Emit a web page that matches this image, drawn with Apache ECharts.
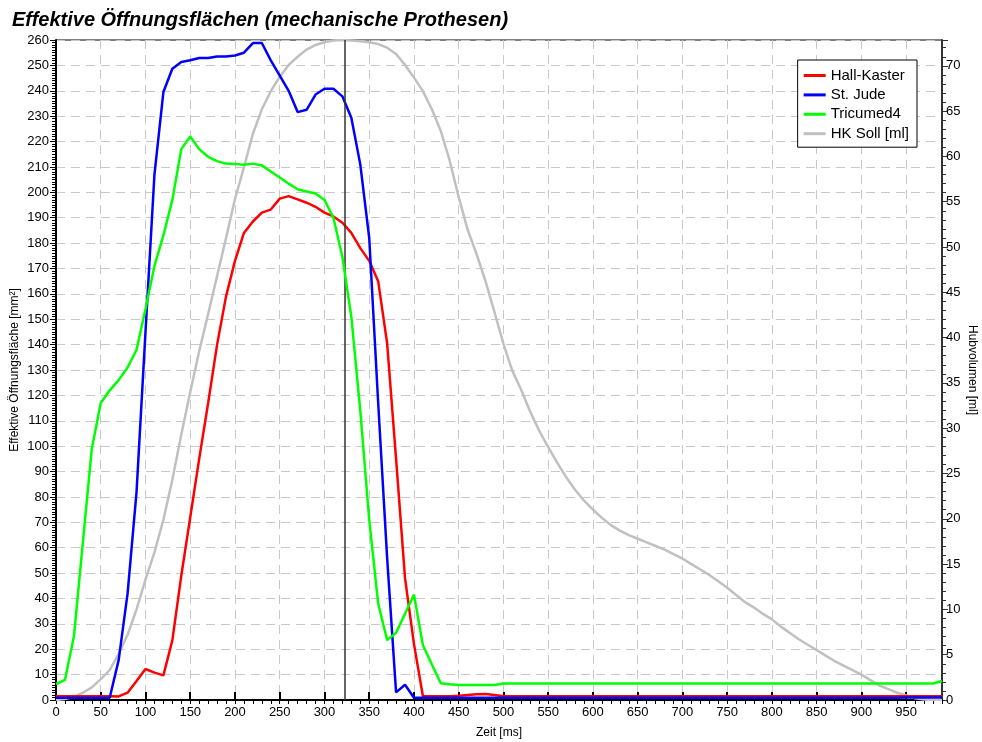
<!DOCTYPE html>
<html>
<head>
<meta charset="utf-8">
<script src="https://cdn.jsdelivr.net/npm/echarts@6/dist/echarts.min.js"></script>
<style>
html,body{margin:0;padding:0;background:#fff;}
#chart{width:982px;height:742px;}
</style>
</head>
<body>
<div id="chart"></div>
<script>
const titleText = 'Effektive Öffnungsflächen (mechanische Prothesen)';
const seriesNames = ['Hall-Kaster', 'St. Jude', 'Tricumed4', 'HK Soll [ml]'];

const timeMs = [0,10,20,30,40,50,60,70,80,90,100,110,120,130,140,150,160,170,180,190,
200,210,220,230,240,250,260,270,280,290,300,310,320,330,340,350,360,370,380,390,
400,410,420,430,440,450,460,470,480,490,500,510,520,530,540,550,560,570,580,590,
600,610,620,630,640,650,660,670,680,690,700,710,720,730,740,750,760,770,780,790,
800,810,820,830,840,850,860,870,880,890,900,910,920,930,940,950,960,970,980,990];

const hallKaster = [1.5,1.5,1.5,1.5,1.5,1.5,1.5,1.4,2.9,7.5,12.2,10.8,9.7,23.5,49,72,95,117,140,159,
173,184,188.5,192,193.2,197.5,198.5,197.2,195.9,194.3,192,190.5,188,184,178,173,165,140.5,95,48,
22,1.5,1.5,1.5,1.5,1.7,2.0,2.3,2.4,2.0,1.5,1.5,1.5,1.5,1.5,1.5,1.5,1.5,1.5,1.5,
1.5,1.5,1.5,1.5,1.5,1.5,1.5,1.5,1.5,1.5,1.5,1.5,1.5,1.5,1.5,1.5,1.5,1.5,1.5,1.5,
1.5,1.5,1.5,1.5,1.5,1.5,1.5,1.5,1.5,1.5,1.5,1.5,1.5,1.5,1.5,1.5,1.5,1.5,1.5,1.5];

const stJude = [0.9,0.9,0.9,0.9,0.9,0.9,0.9,15.7,42,82,145,207,239.5,248.7,251.3,252,252.9,252.9,253.5,253.5,
253.9,255,258.8,258.8,252,246,240,231.6,232.5,238.5,240.8,240.8,237.8,229.4,211,182,117,56,3,6,
0.9,0.9,0.9,0.9,0.9,0.9,0.9,0.9,0.9,0.9,0.9,0.9,0.9,0.9,0.9,0.9,0.9,0.9,0.9,0.9,
0.9,0.9,0.9,0.9,0.9,0.9,0.9,0.9,0.9,0.9,0.9,0.9,0.9,0.9,0.9,0.9,0.9,0.9,0.9,0.9,
0.9,0.9,0.9,0.9,0.9,0.9,0.9,0.9,0.9,0.9,0.9,0.9,0.9,0.9,0.9,1.0,1.0,1.0,1.0,1.0];

const tricumed4 = [6.3,7.9,25,62,99,117,122,126,131,138,154,171,183,197,217,222,217,214,212.3,211.3,
211.2,210.9,211.3,210.6,208.2,205.8,203.4,201.2,200.3,199.5,197,190,174.5,151,114,71,38,23.6,26.5,34,
41.5,21.6,14,6.6,6.2,5.9,5.9,5.9,5.9,5.9,6.5,6.5,6.5,6.5,6.5,6.5,6.5,6.5,6.5,6.5,
6.5,6.5,6.5,6.5,6.5,6.5,6.5,6.5,6.5,6.5,6.5,6.5,6.5,6.5,6.5,6.5,6.5,6.5,6.5,6.5,
6.5,6.5,6.5,6.5,6.5,6.5,6.5,6.5,6.5,6.5,6.5,6.5,6.5,6.5,6.5,6.5,6.5,6.5,6.5,7.5];

const hkSollMl = [0,0.1,0.35,0.8,1.4,2.3,3.3,5.1,7.2,10,13.3,16.3,19.9,24.3,29.3,34,38.5,42.6,46.8,51,
55.3,58.8,62.5,65.2,67.2,68.8,70.1,71,71.8,72.3,72.6,72.8,72.85,72.8,72.7,72.6,72.4,72,71.3,70.1,
68.7,67.2,65.2,62.8,59.5,55.5,51.9,49.2,46.2,42.8,39.3,36.3,34.2,31.8,29.7,27.9,26.2,24.6,23.2,22,
21,20.1,19.3,18.7,18.2,17.8,17.4,17,16.6,16.1,15.6,15,14.4,13.8,13.1,12.4,11.6,10.8,10.2,9.5,
8.9,8.1,7.4,6.7,6.1,5.5,4.9,4.3,3.8,3.3,2.8,2.2,1.6,1.2,0.8,0.5,0.2,0.05,0,0];

const markerTimeMs = 323;
const xTicks = {min: 0, max: 990, step: 50, minorStep: 10};
const leftTicks = {min: 0, max: 260, step: 10};
const rightTicks = {min: 0, max: 72.85, step: 5};

function pairs(vals) { return timeMs.map((t, i) => [t, vals[i]]); }

const FONT = '"Liberation Sans", Arial, sans-serif';
const gridRect = {left: 56, right: 40, top: 40, bottom: 42, containLabel: false, outerBoundsMode: 'none'};

const chart = echarts.init(document.getElementById('chart'), null, {renderer: 'canvas'});
chart.setOption({
  animation: false,
  backgroundColor: '#fff',
  textStyle: {fontFamily: FONT},
  title: {
    text: titleText, left: 12, top: 10, padding: 0,
    textStyle: {fontFamily: FONT, fontSize: 20, fontWeight: 'bold', fontStyle: 'italic', color: '#000'}
  },
  legend: {
    data: seriesNames, orient: 'vertical', right: 65, top: 60,
    icon: 'rect',
    backgroundColor: '#fff', borderColor: '#000', borderWidth: 1, borderRadius: 0,
    padding: [7, 8, 5, 6], itemGap: 2.4, itemWidth: 22, itemHeight: 3,
    textStyle: {fontFamily: FONT, fontSize: 15, color: '#000', lineHeight: 17}
  },
  grid: [
    Object.assign({show: true, borderColor: '#000', borderWidth: 1, backgroundColor: 'transparent'}, gridRect),
    Object.assign({show: false}, gridRect)
  ],
  xAxis: [{
    type: 'value', gridIndex: 0, min: xTicks.min, max: xTicks.max, interval: xTicks.step,
    name: 'Zeit [ms]', nameLocation: 'middle', nameGap: 27, nameMoveOverlap: false,
    nameTextStyle: {fontFamily: FONT, fontSize: 12, color: '#000'},
    axisLine: {show: true, lineStyle: {color: '#000', width: 2}},
    axisTick: {show: true, inside: true, length: 8, lineStyle: {color: '#000', width: 2}},
    axisLabel: {fontFamily: FONT, fontSize: 13, color: '#000', margin: 6, showMaxLabel: false,
      formatter: v => (v % 50 === 0 ? String(v) : '')},
    splitLine: {show: true, lineStyle: {color: '#c8c8c8', type: [9, 6], width: 1}}
  }, {
    type: 'value', gridIndex: 1, min: xTicks.min, max: xTicks.max, interval: xTicks.minorStep,
    axisLine: {show: false},
    axisTick: {show: true, inside: false, length: 4, lineStyle: {color: '#000', width: 1}},
    axisLabel: {show: false}, splitLine: {show: false}
  }],
  yAxis: [{
    type: 'value', gridIndex: 0, position: 'left', min: leftTicks.min, max: leftTicks.max, interval: leftTicks.step,
    name: 'Effektive Öffnungsfläche [mm²]', nameLocation: 'middle', nameGap: 41, nameRotate: 90, nameMoveOverlap: false,
    nameTextStyle: {fontFamily: FONT, fontSize: 12, color: '#000', verticalAlign: 'middle'},
    axisLine: {show: true, lineStyle: {color: '#000', width: 2}},
    axisTick: {show: true, inside: false, length: 6, lineStyle: {color: '#000', width: 1}},
    minorTick: {show: true, splitNumber: 10, length: 4, lineStyle: {color: '#000', width: 1}},
    axisLabel: {fontFamily: FONT, fontSize: 13, color: '#000', margin: 7},
    splitLine: {show: true, lineStyle: {color: '#c8c8c8', type: [9, 6], width: 1}}
  }, {
    type: 'value', gridIndex: 0, position: 'right', min: rightTicks.min, max: rightTicks.max, interval: rightTicks.step,
    name: 'Hubvolumen [ml]', nameLocation: 'middle', nameGap: 30, nameRotate: -90, nameMoveOverlap: false,
    nameTextStyle: {fontFamily: FONT, fontSize: 12, color: '#000', verticalAlign: 'middle'},
    axisLine: {show: true, lineStyle: {color: '#333', width: 2}},
    axisTick: {show: true, inside: false, length: 6, lineStyle: {color: '#333', width: 1}},
    minorTick: {show: true, splitNumber: 5, length: 4, lineStyle: {color: '#333', width: 1}},
    axisLabel: {fontFamily: FONT, fontSize: 13, color: '#000', margin: 4, showMaxLabel: false,
      formatter: v => (Math.abs(v % 5) < 1e-6 ? String(v) : '')},
    splitLine: {show: false}
  }, {
    type: 'value', gridIndex: 1, show: false, min: 0, max: 1
  }],
  series: [{
    name: seriesNames[3], type: 'line', xAxisIndex: 0, yAxisIndex: 1, data: pairs(hkSollMl),
    symbol: 'none', smooth: false, color: '#c0c0c0', lineStyle: {color: '#c0c0c0', width: 2.5}, z: 2,
    markLine: {
      silent: true, symbol: ['none', 'none'], label: {show: false},
      lineStyle: {color: '#333', width: 1.5, type: 'solid'},
      data: [{xAxis: markerTimeMs}]
    }
  }, {
    name: seriesNames[0], type: 'line', xAxisIndex: 0, yAxisIndex: 0, data: pairs(hallKaster),
    symbol: 'none', color: '#ff0000', lineStyle: {color: '#ff0000', width: 2.5}, z: 3
  }, {
    name: seriesNames[1], type: 'line', xAxisIndex: 0, yAxisIndex: 0, data: pairs(stJude),
    symbol: 'none', color: '#0000ff', lineStyle: {color: '#0000ff', width: 2.5}, z: 4
  }, {
    name: seriesNames[2], type: 'line', xAxisIndex: 0, yAxisIndex: 0, data: pairs(tricumed4),
    symbol: 'none', color: '#00ff00', lineStyle: {color: '#00ff00', width: 2.5}, z: 5
  }]
});
</script>
</body>
</html>
